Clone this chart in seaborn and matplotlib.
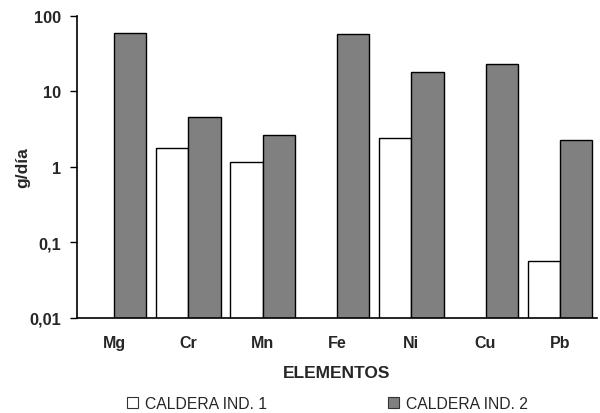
import numpy as np
import pandas as pd
import matplotlib
matplotlib.use("Agg")
import matplotlib.pyplot as plt
import seaborn as sns
from matplotlib.patches import Patch
from matplotlib.ticker import FixedLocator, NullLocator

elementos = ["Mg", "Cr", "Mn", "Fe", "Ni", "Cu", "Pb"]
caldera_1 = [np.nan, 1.77, 1.17, np.nan, 2.42, np.nan, 0.056]
caldera_2 = [58.0, 4.55, 2.6, 57.0, 17.7, 22.8, 2.28]
series = ["CALDERA IND. 1", "CALDERA IND. 2"]
y_ticks = [0.01, 0.1, 1, 10, 100]
y_labels = ["0,01", "0,1", "1", "10", "100"]

df = pd.DataFrame({
    "elemento": elementos * 2,
    "serie": [series[0]] * len(elementos) + [series[1]] * len(elementos),
    "valor": caldera_1 + caldera_2,
})

sns.set_style("white")
plt.rcParams["font.family"] = ["Liberation Sans", "DejaVu Sans"]

fig = plt.figure(figsize=(6.0, 4.14), dpi=100)
ax = fig.add_axes([0.128, 0.2295, 0.867, 0.7305])

colors = {series[0]: "#ffffff", series[1]: "#808080"}
sns.barplot(data=df, x="elemento", y="valor", hue="serie", order=elementos,
            hue_order=series, palette=colors, width=0.87, edgecolor="black",
            linewidth=1.0, ax=ax, legend=False, errorbar=None)
ax.set_yscale("log")

ax.set_ylim(0.01, 100)
ax.set_xlim(-0.5, len(elementos) - 0.5)
ax.yaxis.set_major_locator(FixedLocator(y_ticks))
ax.yaxis.set_minor_locator(NullLocator())
ax.set_yticklabels(y_labels, fontsize=11.8, fontweight="bold")

ax.set_xticks(range(len(elementos)))
ax.set_xticklabels(elementos, fontsize=11.5, fontweight="bold")
ax.tick_params(axis="x", length=0, pad=12)
ax.set_xticks(np.arange(-0.5, len(elementos), 1.0), minor=True)
ax.tick_params(axis="x", which="minor", length=5, width=1.0, color="black", direction="out")
ax.tick_params(axis="y", length=5, width=1.0, color="black", direction="out", left=True, pad=6)

for side in ["top", "right"]:
    ax.spines[side].set_visible(False)
for side in ["left", "bottom"]:
    ax.spines[side].set_color("black")
    ax.spines[side].set_linewidth(1.2)

ax.set_xlabel("ELEMENTOS", fontsize=12.5, fontweight="bold", labelpad=11)
ax.set_ylabel("g/día", fontsize=12.5, fontweight="bold", labelpad=0)

handles = [Patch(facecolor=colors[s], edgecolor="#333333", linewidth=0.8, label=s) for s in series]
fig.legend(handles=handles, loc="center", bbox_to_anchor=(0.546, 0.024), ncol=2,
           frameon=False, fontsize=11.3, handlelength=0.7, handleheight=0.7,
           handletextpad=0.45, columnspacing=7.7, borderaxespad=0)

fig.savefig("out.png", dpi=100)
